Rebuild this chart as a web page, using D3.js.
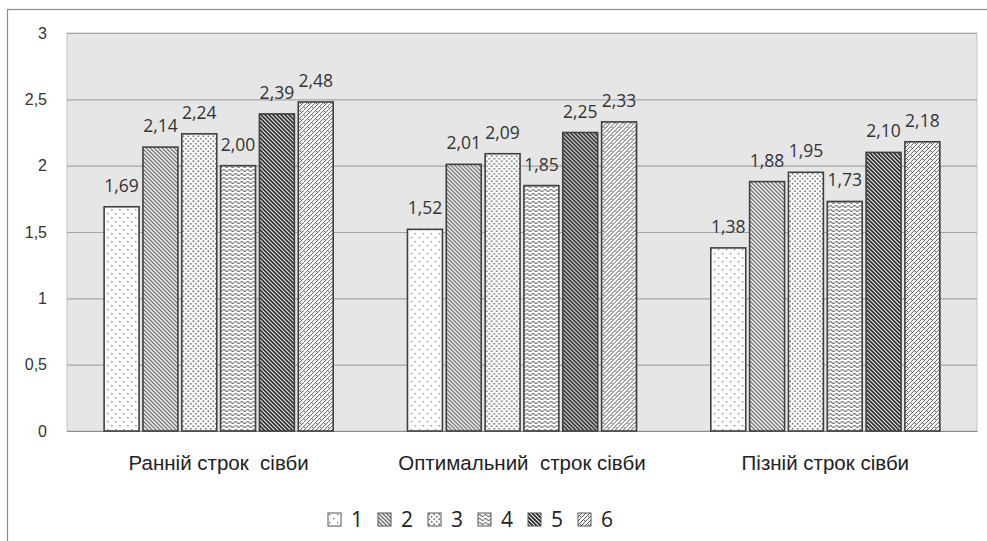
<!DOCTYPE html>
<html>
<head>
<meta charset="utf-8">
<script src="https://cdn.jsdelivr.net/npm/d3@7"></script>
<style>
  body { margin: 0; background: #fff; }
  svg { display: block; font-family: "Open Sans", "Noto Sans", sans-serif; }
</style>
</head>
<body>
<div id="chart"></div>
<script>
(function() {
    'use strict';

    // categories (sowing dates) and series
    const categories = ["Ранній строк  сівби", "Оптимальний  строк сівби", "Пізній строк сівби"];
    const seriesNames = ["1", "2", "3", "4", "5", "6"];
    const s1 = [1.69, 1.52, 1.38];
    const s2 = [2.14, 2.01, 1.88];
    const s3 = [2.24, 2.09, 1.95];
    const s4 = [2.00, 1.85, 1.73];
    const s5 = [2.39, 2.25, 2.10];
    const s6 = [2.48, 2.33, 2.18];
    const yTicks = [0, 0.5, 1, 1.5, 2, 2.5, 3];

    const series = [s1, s2, s3, s4, s5, s6];

    const width = 987;
    const height = 541;
    const plot = { left: 67, right: 977, top: 33, bottom: 431 };

    const svg = d3.select("#chart")
    .append("svg")
    .attr("width", width)
    .attr("height", height);

    // hatch patterns, one per series
    const defs = svg.append("defs");

    function pattern(id, w, h) {
        const p = defs.append("pattern")
        .attr("id", id)
        .attr("patternUnits", "userSpaceOnUse")
        .attr("width", w)
        .attr("height", h);
        p.append("rect").attr("width", w).attr("height", h).attr("fill", "#fff");
        return p;
    }

    // 1: sparse dots
    const p1 = pattern("pat1", 8, 8);
    p1.append("rect").attr("x", 1).attr("y", 1).attr("width", 1.4).attr("height", 1.4).attr("fill", "#888");
    p1.append("rect").attr("x", 5).attr("y", 5).attr("width", 1.4).attr("height", 1.4).attr("fill", "#888");

    // 2: light downward diagonal
    const p2 = pattern("pat2", 4, 4);
    p2.append("path")
    .attr("d", "M-1,-1L5,5M-1,3L1,5M3,-1L5,1")
    .attr("stroke", "#666").attr("stroke-width", 1.3);

    // 3: dense dots
    const p3 = pattern("pat3", 5, 5);
    p3.append("circle").attr("cx", 1.2).attr("cy", 1.2).attr("r", 0.95).attr("fill", "#777");
    p3.append("circle").attr("cx", 3.7).attr("cy", 3.7).attr("r", 0.95).attr("fill", "#777");

    // 4: wave
    const p4 = pattern("pat4", 6, 4);
    p4.append("path")
    .attr("d", "M0,2.5Q1.5,0.5 3,2.5T6,2.5")
    .attr("fill", "none")
    .attr("stroke", "#666").attr("stroke-width", 1.1);

    // 5: dark downward diagonal
    const p5 = pattern("pat5", 4, 4);
    p5.append("path")
    .attr("d", "M-1,-1L5,5M-1,3L1,5M3,-1L5,1")
    .attr("stroke", "#222").attr("stroke-width", 1.7);

    // 6: diagonal brick (upward), mostly white
    const p6 = pattern("pat6", 8, 8);
    p6.append("path")
    .attr("d", "M-1,9L9,-1M-1,5L5,-1M3,9L9,3M1.5,2.5L3.5,4.5M5.5,6.5L7.5,8.5")
    .attr("stroke", "#555").attr("stroke-width", 1).attr("fill", "none");

    const fills = ["url(#pat1)", "url(#pat2)", "url(#pat3)", "url(#pat4)", "url(#pat5)", "url(#pat6)"];

    // outer frame
    svg.append("rect")
    .attr("x", 7.5).attr("y", 9.5)
    .attr("width", width + 10).attr("height", height + 10)
    .attr("fill", "none")
    .attr("stroke", "#8c8c8c")
    .attr("stroke-width", 1.2);

    // scales
    const x0 = d3.scaleBand()
    .domain(categories)
    .range([plot.left, plot.right])
    .paddingInner(0.232)
    .paddingOuter(0.116);

    const x1 = d3.scaleBand()
    .domain(seriesNames)
    .range([0, x0.bandwidth()])
    .paddingInner(0.1)
    .paddingOuter(0.05);

    const y = d3.scaleLinear()
    .domain([0, 3])
    .range([plot.bottom, plot.top]);

    // plot area
    svg.append("rect")
    .attr("x", plot.left).attr("y", plot.top)
    .attr("width", plot.right - plot.left)
    .attr("height", plot.bottom - plot.top)
    .attr("fill", "#e6e6e6")
    .attr("stroke", "#c4c4c4")
    .attr("stroke-width", 1);

    // gridlines + y labels
    const yAxis = d3.axisLeft(y)
    .tickValues(yTicks)
    .tickSize(-(plot.right - plot.left))
    .tickPadding(20)
    .tickFormat(d => String(d).replace(".", ","));

    const gy = svg.append("g")
    .attr("transform", `translate(${plot.left},0)`)
    .call(yAxis);
    gy.select(".domain").remove();
    gy.selectAll(".tick line").attr("stroke", "#a6a6a6").attr("stroke-width", 1.2);
    gy.selectAll(".tick text")
    .attr("fill", "#333")
    .style("font-size", "16px");

    // category labels
    const xAxis = d3.axisBottom(x0).tickSize(0).tickPadding(24);
    const gx = svg.append("g")
    .attr("transform", `translate(0,${plot.bottom})`)
    .call(xAxis);
    gx.select(".domain").attr("stroke", "#8c8c8c").attr("stroke-width", 1.2);
    gx.selectAll(".tick text")
    .attr("fill", "#222")
    .style("font-size", "20.5px")
    .style("white-space", "pre")
    .attr("xml:space", "preserve");

    // bars
    const groups = svg.append("g")
    .selectAll("g")
    .data(categories)
    .enter()
    .append("g")
    .attr("transform", d => `translate(${x0(d)},0)`);

    groups.selectAll("rect")
    .data((c, ci) => series.map((s, si) => ({ name: seriesNames[si], value: s[ci], i: si })))
    .enter()
    .append("rect")
    .attr("x", d => x1(d.name))
    .attr("y", d => y(d.value))
    .attr("width", x1.bandwidth())
    .attr("height", d => y(0) - y(d.value))
    .attr("fill", d => fills[d.i])
    .attr("stroke", "#404040")
    .attr("stroke-width", 1.6);

    groups.selectAll("text")
    .data((c, ci) => series.map((s, si) => ({ name: seriesNames[si], value: s[ci] })))
    .enter()
    .append("text")
    .attr("x", d => x1(d.name) + x1.bandwidth() / 2)
    .attr("y", d => y(d.value) - 15)
    .attr("text-anchor", "middle")
    .attr("fill", "#333")
    .style("font-size", "17.5px")
    .text(d => d.value.toFixed(2).replace(".", ","));

    // legend
    const legend = svg.append("g")
    .attr("transform", "translate(328,513)");

    const item = legend.selectAll("g")
    .data(seriesNames)
    .enter()
    .append("g")
    .attr("transform", (d, i) => `translate(${i * 50},0)`);

    item.append("rect")
    .attr("width", 13).attr("height", 13)
    .attr("fill", (d, i) => fills[i])
    .attr("stroke", "#555")
    .attr("stroke-width", 1);

    item.append("text")
    .attr("x", 23)
    .attr("y", 14)
    .attr("fill", "#222")
    .style("font-size", "21px")
    .text(d => d);

})();
</script>
</body>
</html>
